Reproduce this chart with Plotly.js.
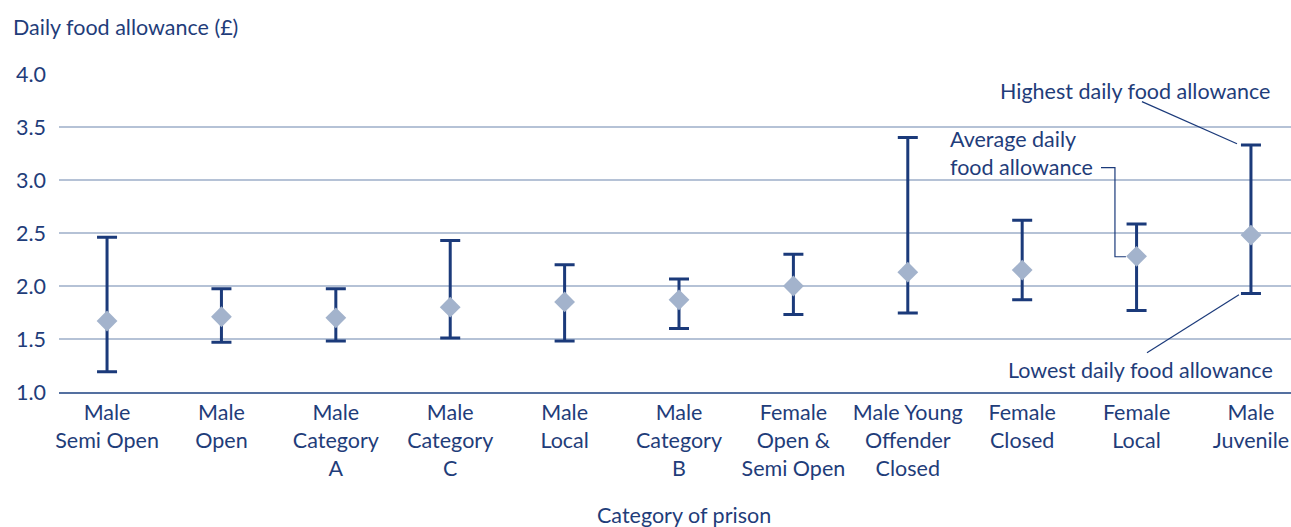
<!DOCTYPE html>
<html>
<head>
<meta charset="utf-8">
<script src="https://cdn.plot.ly/plotly-3.0.1.min.js"></script>
<style>html,body{margin:0;padding:0;background:#fff;}#chart{width:1291px;height:527px;}</style>
</head>
<body>
<div id="chart"></div>
<script>
const categories = [
  "Male<br>Semi Open", "Male<br>Open", "Male<br>Category<br>A", "Male<br>Category<br>C",
  "Male<br>Local", "Male<br>Category<br>B", "Female<br>Open &<br>Semi Open",
  "Male Young<br>Offender<br>Closed", "Female<br>Closed", "Female<br>Local", "Male<br>Juvenile"
];
const averageAllowance = [1.67, 1.71, 1.70, 1.80, 1.85, 1.87, 2.00, 2.13, 2.15, 2.28, 2.48];
const highestAllowance = [2.46, 1.975, 1.975, 2.43, 2.20, 2.065, 2.30, 3.40, 2.62, 2.585, 3.33];
const lowestAllowance  = [1.19, 1.47, 1.48, 1.51, 1.48, 1.60, 1.73, 1.745, 1.87, 1.77, 1.93];
const yTicks = [1.0, 1.5, 2.0, 2.5, 3.0, 3.5, 4.0];

const navy = '#1b3a7a';
const textColor = '#1f3d7a';
const fontFamily = 'Lato, "Open Sans", sans-serif';
const fs = 21.5;

const errPlus = highestAllowance.map((h, i) => h - averageAllowance[i]);
const errMinus = lowestAllowance.map((l, i) => averageAllowance[i] - l);

const trace = {
  type: 'scatter',
  mode: 'markers',
  x: categories,
  y: averageAllowance,
  marker: {symbol: 'diamond', size: 16, color: '#a3b3cc'},
  error_y: {
    type: 'data', symmetric: false,
    array: errPlus, arrayminus: errMinus,
    color: navy, thickness: 3, width: 10
  },
  hoverinfo: 'skip'
};

const layout = {
  width: 1291, height: 527,
  margin: {l: 59, r: 0, t: 74, b: 135},
  paper_bgcolor: '#fff', plot_bgcolor: '#fff',
  showlegend: false,
  font: {family: fontFamily, color: textColor, size: fs},
  xaxis: {
    type: 'category',
    range: [-0.42, 10.35],
    showgrid: false, zeroline: false,
    showline: true, linecolor: '#5470a0', linewidth: 2,
    ticks: '', tickfont: {size: fs, color: textColor, family: fontFamily},
    fixedrange: true
  },
  yaxis: {
    range: [1, 4],
    tickvals: yTicks,
    ticktext: yTicks.map(v => v.toFixed(1)),
    showgrid: true, gridcolor: '#b5c2d6', gridwidth: 1.5,
    zeroline: false, showline: false,
    ticks: '', ticklabelstandoff: 12,
    tickfont: {size: fs, color: textColor, family: fontFamily},
    fixedrange: true
  },
  annotations: [
    {xref: 'paper', yref: 'paper', x: -0.039, y: 1.147, xanchor: 'left', yanchor: 'middle',
     text: 'Daily food allowance (£)', showarrow: false, font: {size: fs, color: textColor}},
    {xref: 'paper', yref: 'paper', x: 0.507, y: -0.388, xanchor: 'center', yanchor: 'middle',
     text: 'Category of prison', showarrow: false, font: {size: fs, color: textColor}},
    {xref: 'x', yref: 'y', x: 10.18, y: 3.84, xanchor: 'right', yanchor: 'middle',
     text: 'Highest daily food allowance', showarrow: false, font: {size: fs, color: textColor}},
    {xref: 'x', yref: 'y', x: 7.35, y: 3.253, xanchor: 'left', yanchor: 'middle', align: 'left',
     text: 'Average daily<br>food allowance', showarrow: false, font: {size: fs, color: textColor}},
    {xref: 'x', yref: 'y', x: 10.21, y: 1.21, xanchor: 'right', yanchor: 'middle',
     text: 'Lowest daily food allowance', showarrow: false, font: {size: fs, color: textColor}}
  ],
  shapes: [
    {type: 'line', xref: 'x', yref: 'y', x0: 9.047, y0: 3.739, x1: 9.878, y1: 3.342,
     line: {color: navy, width: 1.2}},
    {type: 'line', xref: 'x', yref: 'y', x0: 9.895, y0: 1.918, x1: 9.091, y1: 1.371,
     line: {color: navy, width: 1.2}},
    {type: 'path', xref: 'x', yref: 'y',
     path: 'M 8.689 3.116 L 8.811 3.116 L 8.811 2.276 L 8.907 2.276',
     line: {color: navy, width: 1.2}}
  ]
};

Plotly.newPlot('chart', [trace], layout, {displayModeBar: false, staticPlot: true});
</script>
</body>
</html>
